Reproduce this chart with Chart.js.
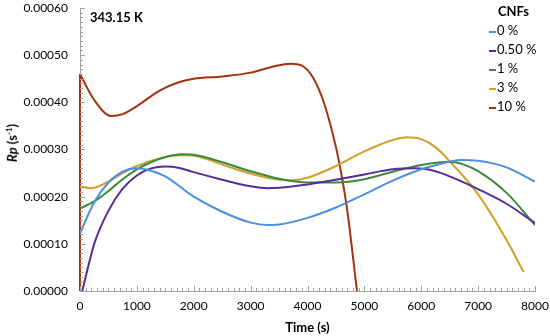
<!DOCTYPE html>
<html>
<head>
<meta charset="utf-8">
<script src="https://cdn.jsdelivr.net/npm/chart.js@4/dist/chart.umd.min.js"></script>
<style>
    body { margin: 0; background: #fff; font-family: Lato, sans-serif; }
    #wrap { position: relative; width: 550px; height: 336px; }
    #temp { position: absolute; left: 90px; top: 9px; font-weight: bold; font-size: 13px; color: #000; }
    #ytitle { position: absolute; left: 12px; top: 143px; transform: translate(-50%, -50%) rotate(-90deg);
              white-space: nowrap; font-weight: bold; font-size: 13px; color: #000; }
    #ytitle sup { font-size: 8px; }
    #legend { position: absolute; left: 489px; top: 1px; font-size: 13px; color: #000; }
    #legend .head { font-weight: bold; font-size: 13px; margin-left: 9px; height: 20px; line-height: 20px; }
    #legend .item { height: 19px; line-height: 19px; }
    #legend .sw { display: inline-block; width: 7px; height: 2px; vertical-align: middle; margin-right: 1px; }
</style>
</head>
<body>
<div id="wrap">
    <canvas id="chart" width="550" height="336"></canvas>
    <div id="temp">343.15 K</div>
    <div id="ytitle"><i>Rp</i> (s<sup>-1</sup>)</div>
    <div id="legend"></div>
</div>
<script>
// Series names and colours
const seriesNames = ['0 %', '0.50 %', '1 %', '3 %', '10 %'];
const seriesColors = ['#4a8fe0', '#5a2a9c', '#3b8a3b', '#d1a02a', '#a3320e'];

// Time (s) / Rp (s-1)
const t0 = [0, 250, 500, 750, 1000, 1250, 1500, 2000, 2500, 3000, 3300, 3500, 4000, 4500, 5000, 5500, 6000, 6500, 6700, 7000, 7500, 8000];
const rp0 = [0.000122, 0.000188, 0.00023, 0.000253, 0.00026, 0.000255, 0.000243, 0.0002, 0.000168, 0.000145, 0.00014, 0.000141, 0.000155, 0.000177, 0.000205, 0.000234, 0.000258, 0.000274, 0.000278, 0.000276, 0.000262, 0.000232];

const t050 = [40, 250, 500, 750, 1000, 1250, 1500, 1750, 2000, 2500, 3000, 3300, 3500, 4000, 4500, 5000, 5500, 5900, 6250, 6500, 7000, 7500, 8000];
const rp050 = [0, 0.0001, 0.00017, 0.000217, 0.000245, 0.00026, 0.000264, 0.000261, 0.000252, 0.000236, 0.000222, 0.000218, 0.000219, 0.000226, 0.000236, 0.000247, 0.000258, 0.00026, 0.000254, 0.000243, 0.000216, 0.000185, 0.000144];

const t1 = [0, 250, 500, 750, 1000, 1250, 1500, 1800, 2000, 2500, 3000, 3500, 4000, 4500, 5000, 5500, 6000, 6500, 6750, 7000, 7500, 8000];
const rp1 = [0.000175, 0.00019, 0.000212, 0.000237, 0.000258, 0.000273, 0.000284, 0.00029, 0.000289, 0.000273, 0.000254, 0.000238, 0.00023, 0.00023, 0.000237, 0.000253, 0.000267, 0.000274, 0.000268, 0.000254, 0.000208, 0.00014];

const t3 = [0, 200, 500, 750, 1000, 1500, 1750, 2000, 2500, 3000, 3500, 3750, 4000, 4500, 5000, 5500, 5750, 6000, 6250, 6500, 7000, 7500, 7800];
const rp3 = [0.000221, 0.000218, 0.000232, 0.00025, 0.000265, 0.000284, 0.000288, 0.000287, 0.000268, 0.000249, 0.000236, 0.000235, 0.00024, 0.000265, 0.000296, 0.00032, 0.000326, 0.000322, 0.000305, 0.000275, 0.000205, 0.000108, 0.00004];

const t10 = [0, 250, 550, 750, 1000, 1400, 1750, 2000, 2500, 3000, 3400, 3700, 3900, 4100, 4300, 4500, 4600, 4700, 4870];
const rp10 = [0.00046, 0.000405, 0.000371, 0.000375, 0.000392, 0.000425, 0.000443, 0.00045, 0.000455, 0.000463, 0.000476, 0.000482, 0.000478, 0.000452, 0.000395, 0.000305, 0.000245, 0.00017, 0];

// the 10 % curve also runs down the y axis to zero
const t10Edge = [0, 0];
const rp10Edge = [0, 0.00046];

const times = [t0, t050, t1, t3, t10];
const values = [rp0, rp050, rp1, rp3, rp10];

// Tick settings
const xMax = 8000, xStep = 1000, xMinor = 100;
const yMax = 0.0006, yStep = 0.0001, yMinor = 0.00001;

const axisColor = '#a0a0a0';
const fontFamily = 'Lato, sans-serif';

function toPoints(xs, ys) {
    return xs.map((x, i) => ({ x: x, y: ys[i] }));
}

const datasets = seriesNames.map((name, i) => ({
    label: name,
    data: toPoints(times[i], values[i]),
    borderColor: seriesColors[i],
    borderWidth: 2,
    pointRadius: 0,
    cubicInterpolationMode: 'monotone',
    fill: false
}));
datasets.push({
    label: '',
    data: toPoints(t10Edge, rp10Edge),
    borderColor: seriesColors[4],
    borderWidth: 2,
    pointRadius: 0,
    tension: 0,
    clip: 4
});

// Legend (HTML)
const legend = document.getElementById('legend');
legend.innerHTML = '<div class="head">CNFs</div>' + seriesNames.map((n, i) =>
    `<div class="item"><span class="sw" style="background:${seriesColors[i]}"></span>${n}</div>`
).join('');

// Minor tick marks drawn inside the plot, like the original
const innerTicks = {
    id: 'innerTicks',
    afterDatasetsDraw(chart) {
        const { ctx, chartArea, scales } = chart;
        ctx.save();
        ctx.strokeStyle = axisColor;
        ctx.lineWidth = 1;
        ctx.beginPath();
        for (let v = 0; v <= xMax + 1e-9; v += xMinor) {
            const px = Math.round(scales.x.getPixelForValue(v)) + 0.5;
            const len = (v % xStep === 0) ? 5 : 3;
            ctx.moveTo(px, chartArea.bottom);
            ctx.lineTo(px, chartArea.bottom - len);
        }
        for (let k = 0; k <= Math.round(yMax / yMinor); k++) {
            const py = Math.round(scales.y.getPixelForValue(k * yMinor)) + 0.5;
            const len = (k % 10 === 0) ? 5 : 3;
            ctx.moveTo(chartArea.left, py);
            ctx.lineTo(chartArea.left + len, py);
        }
        ctx.stroke();
        ctx.restore();
    }
};

new Chart(document.getElementById('chart'), {
    type: 'line',
    data: { datasets: datasets },
    options: {
        responsive: false,
        animation: false,
        layout: { padding: { top: 8, right: 15, left: 0, bottom: 0 } },
        plugins: {
            legend: { display: false },
            tooltip: { enabled: false }
        },
        scales: {
            x: {
                type: 'linear',
                min: 0,
                max: xMax,
                grid: { display: false, drawTicks: false },
                border: { color: axisColor, width: 1 },
                ticks: {
                    stepSize: xStep,
                    color: '#000',
                    padding: 8,
                    maxRotation: 0,
                    font: { family: fontFamily, size: 12 },
                    callback: (v) => String(v)
                },
                title: {
                    display: true,
                    text: 'Time (s)',
                    color: '#000',
                    padding: { top: 2, bottom: 0 },
                    font: { family: fontFamily, size: 13, weight: 'bold' }
                },
                afterFit: (scale) => {
                    scale.height = 45;
                    scale.paddingLeft = 0;
                    scale.paddingRight = 0;
                }
            },
            y: {
                min: 0,
                max: yMax,
                grid: { display: false, drawTicks: false },
                border: { color: axisColor, width: 1 },
                ticks: {
                    stepSize: yStep,
                    color: '#000',
                    padding: 12,
                    font: { family: fontFamily, size: 12 },
                    callback: (v) => v.toFixed(5)
                },
                afterFit: (scale) => {
                    scale.width = 80;
                    scale.paddingTop = 0;
                    scale.paddingBottom = 0;
                }
            }
        }
    },
    plugins: [innerTicks]
});
</script>
</body>
</html>
